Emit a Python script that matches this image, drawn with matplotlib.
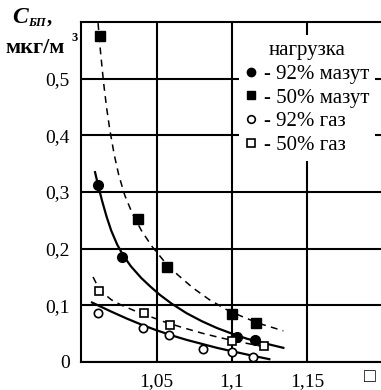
import matplotlib
matplotlib.use('Agg')
import matplotlib.pyplot as plt
from matplotlib.lines import Line2D

plt.rcParams['font.family'] = ['Liberation Serif', 'DejaVu Sans']

# measured points
maz92_x = [1.011, 1.027, 1.103, 1.115]
maz92_y = [0.312, 0.186, 0.045, 0.038]
maz50_x = [1.0125, 1.038, 1.057, 1.1, 1.116]
maz50_y = [0.575, 0.253, 0.168, 0.085, 0.068]
gas92_x = [1.011, 1.041, 1.058, 1.081, 1.1, 1.114]
gas92_y = [0.086, 0.060, 0.047, 0.023, 0.018, 0.009]
gas50_x = [1.012, 1.042, 1.059, 1.1, 1.121]
gas50_y = [0.125, 0.086, 0.065, 0.037, 0.028]

# trend curves
maz92_cx = [1.0093, 1.0113, 1.014, 1.017, 1.020, 1.024, 1.028, 1.033, 1.040, 1.046,
            1.052, 1.060, 1.070, 1.080, 1.090, 1.100, 1.110, 1.120, 1.134]
maz92_cy = [0.335, 0.312, 0.284, 0.256, 0.232, 0.207, 0.188, 0.169, 0.148, 0.133,
            0.119, 0.103, 0.086, 0.072, 0.060, 0.050, 0.041, 0.034, 0.025]
maz50_cx = [1.0113, 1.013, 1.015, 1.017, 1.019, 1.022, 1.025, 1.029, 1.034, 1.040,
            1.047, 1.055, 1.064, 1.074, 1.085, 1.096, 1.106, 1.118, 1.134]
maz50_cy = [0.598, 0.545, 0.492, 0.448, 0.411, 0.366, 0.330, 0.294, 0.262, 0.232,
            0.204, 0.178, 0.154, 0.131, 0.110, 0.093, 0.081, 0.068, 0.055]
gas50_cx = [1.008, 1.011, 1.015, 1.020, 1.027, 1.035, 1.045, 1.055, 1.067,
            1.080, 1.092, 1.104, 1.121]
gas50_cy = [0.150, 0.134, 0.121, 0.110, 0.100, 0.091, 0.081, 0.071, 0.061,
            0.051, 0.043, 0.036, 0.027]
gas92_cx = [1.0073, 1.012, 1.020, 1.030, 1.040, 1.050, 1.060, 1.070, 1.080,
            1.090, 1.100, 1.112, 1.1247]
gas92_cy = [0.105, 0.099, 0.089, 0.077, 0.066, 0.056, 0.047, 0.039, 0.032,
            0.025, 0.019, 0.012, 0.005]

xticks = [1.05, 1.1, 1.15]
xlabels = ['1,05', '1,1', '1,15']
yticks = [0, 0.1, 0.2, 0.3, 0.4, 0.5]
ylabels = ['0', '0,1', '0,2', '0,3', '0,4', '0,5']
legend_labels = ['- 92% мазут', '- 50% мазут', '- 92% газ', '- 50% газ']

fig = plt.figure(figsize=(3.81, 3.90), dpi=100)
ax = fig.add_axes([81 / 381, 28 / 390, 302 / 381, 340 / 390])

ax.plot(maz50_cx, maz50_cy, color='black', lw=1.1, dashes=(4.5, 3.5))
ax.plot(maz92_cx, maz92_cy, color='black', lw=1.6)
ax.plot(gas50_cx, gas50_cy, color='black', lw=1.1, dashes=(4.5, 3.5))
ax.plot(gas92_cx, gas92_cy, color='black', lw=1.6)

ax.plot(maz92_x, maz92_y, 'o', color='black', ms=7)
ax.plot(maz50_x, maz50_y, 's', color='black', ms=6.5)
ax.plot(gas92_x, gas92_y, 'o', mfc='white', mec='black', mew=1.2, ms=6)
ax.plot(gas50_x, gas50_y, 's', mfc='white', mec='black', mew=1.2, ms=6)

ax.set_xlim(1.0, 1.2)
ax.set_ylim(0, 0.6)
ax.set_xticks(xticks)
ax.set_xticklabels(xlabels)
ax.set_yticks(yticks)
ax.set_yticklabels(ylabels)
ax.tick_params(length=0, labelsize=14, pad=8)
ax.grid(True, color='black', lw=1.5)
ax.set_axisbelow(True)
for s in ax.spines.values():
    s.set_linewidth(1.5)

handles = [
    Line2D([], [], ls='none', marker='o', color='black', ms=6),
    Line2D([], [], ls='none', marker='s', color='black', ms=5.5),
    Line2D([], [], ls='none', marker='o', mfc='white', mec='black', mew=1.2, ms=5.5),
    Line2D([], [], ls='none', marker='s', mfc='white', mec='black', mew=1.2, ms=5.5),
]
leg = ax.legend(handles, legend_labels, title='нагрузка', loc='upper right',
                bbox_to_anchor=(0.975, 0.962), frameon=True, fancybox=False,
                edgecolor='none', facecolor='white', framealpha=1,
                fontsize=15, title_fontsize=15, handlelength=0.6,
                handletextpad=0.3, labelspacing=0.2, borderpad=0.3,
                borderaxespad=0)

fig.text(12 / 381, 1 - 23 / 390, 'C', fontsize=17, style='italic', weight='bold')
fig.text(28 / 381, 1 - 26 / 390, 'БП', fontsize=9, style='italic', weight='bold')
fig.text(47 / 381, 1 - 23 / 390, ',', fontsize=15, weight='bold')
fig.text(5 / 381, 1 - 53 / 390, 'мкг/м', fontsize=16, weight='bold')
fig.text(72 / 381, 1 - 41 / 390, '3', fontsize=9, weight='bold')
fig.text(364 / 381, 1 - 382 / 390, '□', fontsize=14)

fig.savefig('out.png', dpi=100)
